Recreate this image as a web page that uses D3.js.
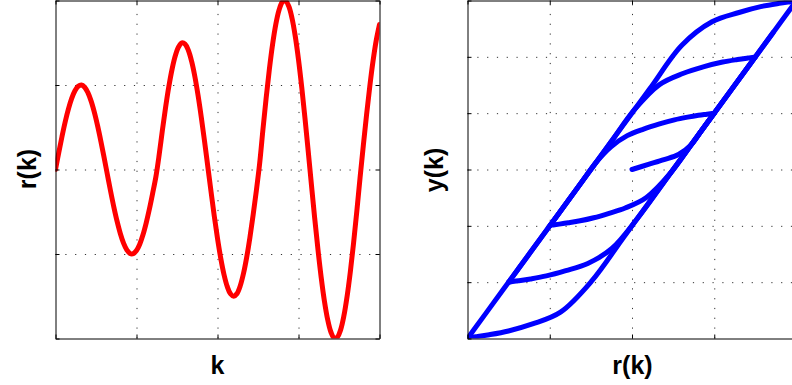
<!DOCTYPE html>
<html>
<head>
<meta charset="utf-8">
<script src="https://cdn.jsdelivr.net/npm/d3@7/dist/d3.min.js"></script>
<style>
html, body { margin: 0; padding: 0; background: #fff; }
svg { display: block; }
</style>
</head>
<body>
<svg id="chart" width="792" height="385"></svg>
<script>
// ---- data ----
const kValues = [
  0,1,2,3,4,5,6,7,8,9,10,11,12,13,14,15,16,17,18,19,20,21,22,23,24,25,26,27,28,29,30,
  31,32,33,34,35,36,37,38,39,40,41,42,43,44,45,46,47,48,49,50,51,52,53,54,55,56,57,58,59,60,
  61,62,63,64,65,66,67,68,69,70,71,72,73,74,75,76,77,78,79,80,81,82,83,84,85,86,87,88,89,90,
  91,92,93,94,95,96,97,98,99,100
];
// input r(k)
const rValues = [
  0.000, 0.199, 0.389, 0.565, 0.717, 0.841, 0.932, 0.985, 1.000, 0.974,
  0.909, 0.809, 0.676, 0.516, 0.335, 0.141,-0.058,-0.256,-0.443,-0.612,
 -0.757,-0.872,-0.952,-0.994,-0.996,-0.959,-0.884,-0.773,-0.631,-0.465,
 -0.279,-0.083, 0.175, 0.467, 0.741, 0.986, 1.191, 1.348, 1.452, 1.498,
  1.484, 1.411, 1.282, 1.102, 0.877, 0.618, 0.334, 0.037,-0.261,-0.550,
 -0.816,-1.050,-1.242,-1.384,-1.471,-1.500,-1.469,-1.379,-1.234,-1.041,
 -0.805,-0.537,-0.248, 0.067, 0.463, 0.840, 1.184, 1.481, 1.719, 1.887,
  1.981, 1.996, 1.931, 1.790, 1.577, 1.301, 0.973, 0.606, 0.216,-0.184,
 -0.576,-0.945,-1.276,-1.557,-1.775,-1.923,-1.994,-1.985,-1.898,-1.735,
 -1.502,-1.210,-0.869,-0.494,-0.099, 0.282, 0.645, 0.983, 1.282, 1.530,
  1.716
];
// output y(k)
const yValues = [
  0.000, 0.090, 0.175, 0.265, 0.434, 0.682, 0.864, 0.970, 1.000, 0.995,
  0.982, 0.962, 0.929, 0.881, 0.809, 0.718, 0.601, 0.402, 0.114,-0.224,
 -0.514,-0.744,-0.904,-0.988,-0.992,-0.985,-0.970,-0.946,-0.911,-0.856,
 -0.777,-0.684,-0.497,-0.066, 0.482, 0.972, 1.382, 1.696, 1.904, 1.996,
  1.993, 1.979, 1.952, 1.907, 1.826, 1.704, 1.507, 1.074, 0.478,-0.100,
 -0.632,-1.100,-1.484,-1.768,-1.942,-2.000,-1.994,-1.976,-1.943,-1.889,
 -1.795,-1.668,-1.407,-0.866,-0.074, 0.680, 1.368, 1.962, 2.438, 2.774,
  2.962, 2.992, 2.979, 2.950, 2.895, 2.787, 2.622, 2.206, 1.432, 0.632,
 -0.152,-0.890,-1.552,-2.114,-2.550,-2.846,-2.988,-2.986,-2.969,-2.933,
 -2.866,-2.742,-2.532,-1.988,-1.198,-0.436, 0.290, 0.966, 1.564, 2.060,
  2.432
];
const kTicks = [0, 25, 50, 75, 100];
const rTicksLeft = [-2, -1, 0, 1, 2];
const rTicksRight = [-2, -1, 0, 1, 2];
const yTicks = [-3, -2, -1, 0, 1, 2, 3];

// ---- drawing ----
const svg = d3.select("#chart");
const FONT = "'Liberation Sans', Arial, Helvetica, sans-serif";
const LW = 5;

function panel(opts) {
  const { x, y, xTicks, yTicks, pieces, color, id, xLabel, yLabel, xLabelPos, yLabelPos } = opts;
  const [x0, x1] = x.range();
  const [y0, y1] = y.range();
  const g = svg.append("g");

  g.append("clipPath").attr("id", id)
    .append("rect").attr("x", x0).attr("y", y1).attr("width", x1 - x0).attr("height", y0 - y1);

  const inner = (arr, sc) => arr.filter(v => v !== sc.domain()[0] && v !== sc.domain()[1]);

  // dotted grid
  const grid = g.append("g").attr("class", "grid");
  grid.append("g").attr("transform", `translate(0,${y0})`)
    .call(d3.axisBottom(x).tickValues(inner(xTicks, x)).tickSize(-(y0 - y1)).tickFormat(""))
    .call(s => s.select(".domain").remove());
  grid.append("g").attr("transform", `translate(${x0},0)`)
    .call(d3.axisLeft(y).tickValues(inner(yTicks, y)).tickSize(-(x1 - x0)).tickFormat(""))
    .call(s => s.select(".domain").remove());
  grid.selectAll("line")
    .attr("stroke", "#333").attr("stroke-width", 1).attr("stroke-dasharray", "1.2,8.6");

  // curve(s)
  const line = d3.line().x(d => x(d[0])).y(d => y(d[1])).curve(d3.curveCatmullRom.alpha(0.5));
  const cg = g.append("g").attr("clip-path", `url(#${id})`);
  cg.selectAll("path").data(pieces).join("path")
    .attr("fill", "none")
    .attr("stroke", color)
    .attr("stroke-width", LW)
    .attr("stroke-linejoin", "round")
    .attr("stroke-linecap", "round")
    .attr("d", line);

  // box with inward ticks
  const T = 4;
  const axes = g.append("g").attr("class", "box");
  axes.append("g").attr("transform", `translate(0,${y0})`)
    .call(d3.axisBottom(x).tickValues(xTicks).tickSizeInner(-T).tickSizeOuter(0).tickFormat(""));
  axes.append("g").attr("transform", `translate(0,${y1})`)
    .call(d3.axisTop(x).tickValues(xTicks).tickSizeInner(-T).tickSizeOuter(0).tickFormat(""));
  axes.append("g").attr("transform", `translate(${x0},0)`)
    .call(d3.axisLeft(y).tickValues(yTicks).tickSizeInner(-T).tickSizeOuter(0).tickFormat(""));
  axes.append("g").attr("transform", `translate(${x1},0)`)
    .call(d3.axisRight(y).tickValues(yTicks).tickSizeInner(-T).tickSizeOuter(0).tickFormat(""));
  axes.selectAll(".domain").attr("stroke", "#000").attr("stroke-width", 1);
  axes.selectAll(".tick line").attr("stroke", "#000").attr("stroke-width", 1);

  // labels
  g.append("text")
    .attr("x", xLabelPos[0]).attr("y", xLabelPos[1])
    .attr("text-anchor", "middle")
    .attr("font-family", FONT).attr("font-weight", "bold").attr("font-size", 25)
    .attr("fill", "#000")
    .text(xLabel);
  g.append("text")
    .attr("transform", `translate(${yLabelPos[0]},${yLabelPos[1]}) rotate(-90)`)
    .attr("text-anchor", "middle")
    .attr("font-family", FONT).attr("font-weight", "bold").attr("font-size", 25)
    .attr("fill", "#000")
    .text(yLabel);
}

// split the (r, y) trajectory into monotone branches at the reversal points of r
function branches(xs, ys) {
  const out = [];
  let cur = [[xs[0], ys[0]]];
  let dir = 0;
  for (let i = 1; i < xs.length; i++) {
    const d = Math.sign(xs[i] - xs[i - 1]);
    if (dir !== 0 && d !== 0 && d !== dir) {
      out.push(cur);
      cur = [[xs[i - 1], ys[i - 1]]];
    }
    if (d !== 0) dir = d;
    cur.push([xs[i], ys[i]]);
  }
  out.push(cur);
  return out;
}

// left panel: r(k) versus k
const xL = d3.scaleLinear().domain([0, 100]).range([55.5, 379.5]);
const yL = d3.scaleLinear().domain([-2, 2]).range([338.5, 0.5]);
panel({
  x: xL, y: yL, xTicks: kTicks, yTicks: rTicksLeft,
  pieces: [kValues.map((k, i) => [k, rValues[i]])],
  color: "#ff0000", id: "clipL",
  xLabel: "k", yLabel: "r(k)",
  xLabelPos: [217.5, 374], yLabelPos: [36, 169]
});

// right panel: y(k) versus r(k)
const xR = d3.scaleLinear().domain([-2, 2]).range([467.5, 796.5]);
const yR = d3.scaleLinear().domain([-3, 3]).range([338.5, 0.5]);
panel({
  x: xR, y: yR, xTicks: rTicksRight, yTicks: yTicks,
  pieces: branches(rValues, yValues),
  color: "#0000ff", id: "clipR",
  xLabel: "r(k)", yLabel: "y(k)",
  xLabelPos: [632.5, 374], yLabelPos: [443, 170]
});
</script>
</body>
</html>
